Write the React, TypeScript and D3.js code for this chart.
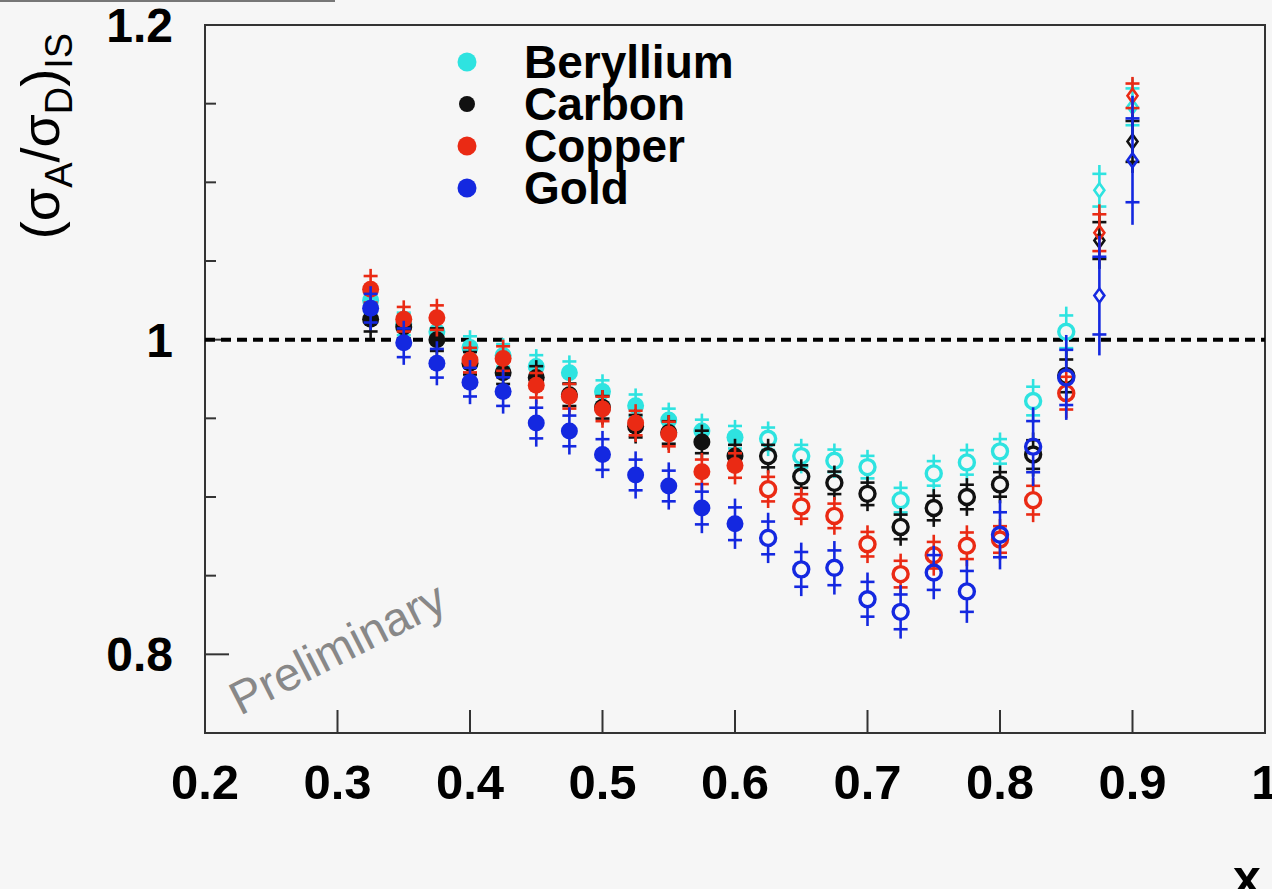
import React from "react";
import * as d3 from "d3";

const xValues = [0.325, 0.35, 0.375, 0.4, 0.425, 0.45, 0.475, 0.5, 0.525, 0.55, 0.575, 0.6, 0.625, 0.65, 0.675, 0.7, 0.725, 0.75, 0.775, 0.8, 0.825, 0.85, 0.875, 0.9];

const berylliumValues = [1.025, 1.010, 1.005, 0.995, 0.990, 0.983, 0.979, 0.967, 0.958, 0.949, 0.942, 0.938, 0.937, 0.926, 0.923, 0.919, 0.898, 0.915, 0.922, 0.929, 0.961, 1.005, 1.095, 1.148];
const carbonValues = [1.013, 1.008, 1.000, 0.985, 0.979, 0.976, 0.965, 0.957, 0.945, 0.941, 0.935, 0.926, 0.926, 0.913, 0.909, 0.902, 0.881, 0.893, 0.900, 0.908, 0.927, 0.977, 1.063, 1.126];
const copperValues = [1.032, 1.013, 1.014, 0.987, 0.988, 0.971, 0.964, 0.956, 0.947, 0.940, 0.916, 0.920, 0.905, 0.894, 0.888, 0.870, 0.851, 0.863, 0.869, 0.873, 0.898, 0.966, 1.068, 1.155];
const goldValues = [1.020, 0.998, 0.985, 0.973, 0.967, 0.947, 0.942, 0.927, 0.914, 0.907, 0.893, 0.883, 0.874, 0.854, 0.855, 0.835, 0.827, 0.852, 0.840, 0.876, 0.932, 0.976, 1.028, 1.114];

const berylliumErrors = [0.012, 0.011, 0.011, 0.011, 0.011, 0.011, 0.011, 0.011, 0.011, 0.011, 0.011, 0.011, 0.011, 0.011, 0.011, 0.011, 0.012, 0.012, 0.012, 0.012, 0.014, 0.016, 0.016, 0.018];
const carbonErrors = [0.012, 0.011, 0.011, 0.011, 0.011, 0.011, 0.011, 0.011, 0.011, 0.011, 0.011, 0.011, 0.011, 0.011, 0.011, 0.011, 0.012, 0.012, 0.012, 0.012, 0.014, 0.016, 0.018, 0.02];
const copperErrors = [0.013, 0.012, 0.012, 0.012, 0.012, 0.012, 0.012, 0.012, 0.012, 0.012, 0.012, 0.012, 0.012, 0.012, 0.012, 0.012, 0.013, 0.013, 0.013, 0.013, 0.014, 0.016, 0.018, 0.012];
const goldErrors = [0.014, 0.014, 0.014, 0.014, 0.014, 0.015, 0.015, 0.015, 0.015, 0.015, 0.016, 0.016, 0.016, 0.017, 0.017, 0.017, 0.017, 0.017, 0.02, 0.022, 0.025, 0.027, 0.038, 0.041];

// marker style by point index: filled circle, open circle, open diamond
const markerKinds = ["f", "f", "f", "f", "f", "f", "f", "f", "f", "f", "f", "f", "o", "o", "o", "o", "o", "o", "o", "o", "o", "o", "d", "d"];

const seriesNames = ["Beryllium", "Carbon", "Copper", "Gold"];
const seriesColors = ["#2ee3e0", "#111111", "#ea2a14", "#1428e0"];
const seriesValues = [berylliumValues, carbonValues, copperValues, goldValues];
const seriesErrors = [berylliumErrors, carbonErrors, copperErrors, goldErrors];

const xTicks = [0.2, 0.3, 0.4, 0.5, 0.6, 0.7, 0.8, 0.9, 1];
const xTickLabels = ["0.2", "0.3", "0.4", "0.5", "0.6", "0.7", "0.8", "0.9", "1"];
const yMajorTicks = [0.8, 1.0, 1.2];
const yMajorLabels = ["0.8", "1", "1.2"];
const yMinorTicks = [0.75, 0.85, 0.9, 0.95, 1.05, 1.1, 1.15];

const W = 1272;
const H = 889;
const FONT = "'Liberation Sans', Arial, Helvetica, sans-serif";

export default function App() {
  const x = d3.scaleLinear().domain([0.2, 1]).range([205, 1265]);
  const y = d3.scaleLinear().domain([0.75, 1.2]).range([733, 25]);
  const [x0, x1] = x.range();
  const [yb, yt] = y.range();

  const marks: React.ReactNode[] = [];
  seriesValues.forEach((vals, si) => {
    const color = seriesColors[si];
    vals.forEach((v, i) => {
      const cx = x(xValues[i]);
      const cy = y(v);
      const e = seriesErrors[si][i];
      const kind = markerKinds[i];
      const gap = kind === "f" ? 0 : kind === "o" ? 8 : 7;
      const top = y(v + e);
      const bot = y(v - e);
      const capUp = y(v + e * 0.65);
      const capDn = y(v - e * 0.65);
      const key = `${si}-${i}`;
      marks.push(
        <g key={key} stroke={color} strokeWidth={2.6}>
          <line x1={cx} x2={cx} y1={top} y2={cy - gap} />
          <line x1={cx} x2={cx} y1={cy + gap} y2={bot} />
          <line x1={cx - 7} x2={cx + 7} y1={capUp} y2={capUp} />
          <line x1={cx - 7} x2={cx + 7} y1={capDn} y2={capDn} />
          {kind === "f" && <circle cx={cx} cy={cy} r={8.5} fill={color} stroke="none" />}
          {kind === "o" && <circle cx={cx} cy={cy} r={7.5} fill="none" strokeWidth={3.4} />}
          {kind === "d" && (
            <path d={`M${cx},${cy - 7}L${cx + 5},${cy}L${cx},${cy + 7}L${cx - 5},${cy}Z`} fill="none" strokeWidth={2.6} />
          )}
        </g>
      );
    });
  });

  return (
    <svg width={W} height={H} style={{ position: "absolute", left: 0, top: 0 }} fontFamily={FONT}>
      <rect x={0} y={0} width={W} height={H} fill="#f6f6f6" />
      <line x1={0} x2={335} y1={1} y2={1} stroke="#777" strokeWidth={2} />

      {/* frame */}
      <rect x={x0} y={yt} width={x1 - x0} height={yb - yt} fill="none" stroke="#333" strokeWidth={2} />

      {/* y ticks */}
      {yMajorTicks.map((t) => (
        <line key={`ym${t}`} x1={x0} x2={x0 + 24} y1={y(t)} y2={y(t)} stroke="#333" strokeWidth={2} />
      ))}
      {yMinorTicks.map((t) => (
        <line key={`yn${t}`} x1={x0} x2={x0 + 11} y1={y(t)} y2={y(t)} stroke="#333" strokeWidth={2} />
      ))}
      {yMajorTicks.map((t, i) => (
        <text key={`yl${t}`} x={173} y={y(t) + 17} textAnchor="end" fontSize={48} fontWeight="bold" fill="#000">
          {yMajorLabels[i]}
        </text>
      ))}

      {/* x ticks */}
      {xTicks.map((t) => (
        <line key={`xt${t}`} x1={x(t)} x2={x(t)} y1={yb} y2={yb - 23} stroke="#333" strokeWidth={2} />
      ))}
      {xTicks.map((t, i) => (
        <text key={`xl${t}`} x={x(t)} y={799} textAnchor="middle" fontSize={49} fontWeight="bold" fill="#000">
          {xTickLabels[i]}
        </text>
      ))}

      {/* reference line */}
      <line x1={x0} x2={x1} y1={y(1)} y2={y(1)} stroke="#000" strokeWidth={4} strokeDasharray="10,6" />

      {/* Preliminary */}
      <text x={240} y={716} fontSize={47} fill="#888" transform="rotate(-27 240 716)">
        Preliminary
      </text>

      {marks}

      {/* legend */}
      {seriesNames.map((n, i) => (
        <g key={n}>
          <circle cx={467} cy={62 + i * 42} r={i === 1 ? 8 : 9.5} fill={seriesColors[i]} />
          <text x={524} y={78 + i * 42} fontSize={46} fontWeight="bold" fill="#000">
            {n}
          </text>
        </g>
      ))}

      {/* axis titles */}
      <text x={1247} y={895} textAnchor="middle" fontSize={50} fontWeight="bold" fill="#000">
        x
      </text>
      <text transform="translate(59,136) rotate(-90)" textAnchor="middle" fontSize={54} fill="#000">
        (σ<tspan fontSize={38} dy={13}>A</tspan>
        <tspan dy={-13}>/σ</tspan>
        <tspan fontSize={38} dy={13}>D</tspan>
        <tspan dy={-13}>)</tspan>
        <tspan fontSize={38} dy={13}>IS</tspan>
      </text>
    </svg>
  );
}
